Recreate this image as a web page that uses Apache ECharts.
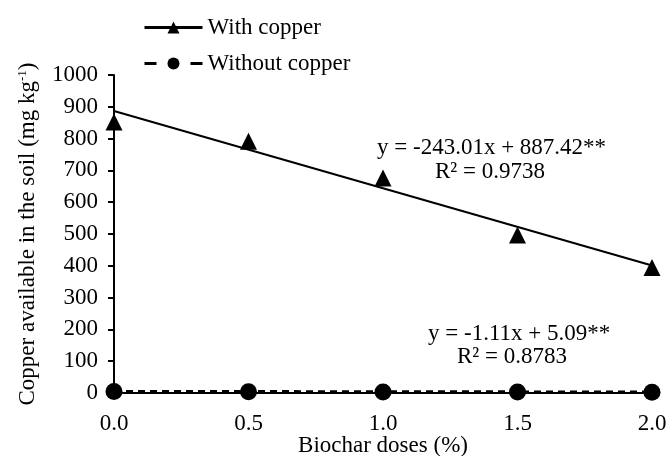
<!DOCTYPE html>
<html>
<head>
<meta charset="utf-8">
<script src="https://cdn.jsdelivr.net/npm/echarts@6/dist/echarts.min.js"></script>
<style>
  html, body {margin: 0; padding: 0; background: #fff;}
  #chart {width: 669px; height: 456px;}
</style>
</head>
<body>
<div id="chart"></div>
<script>
const doses = [0, 0.5, 1.0, 1.5, 2.0];
const withCopper = [852, 792, 676, 497, 395];
const withoutCopper = [5, 4, 3, 3, 2];
const withTrend = [[0, 887], [2, 401]];
const withoutTrend = [[0, 5], [2, 3]];
const xTicks = ['0.0', '0.5', '1.0', '1.5', '2.0'];

const font = 'Liberation Serif';
const fs = 23;
const chart = echarts.init(document.getElementById('chart'));

chart.setOption({
    animation: false,
    textStyle: {fontFamily: font, color: '#000'},
    grid: {left: 114, right: 17, top: 75, bottom: 63, outerBoundsMode: 'none'},
    legend: {
        orient: 'vertical',
        left: 143,
        top: 16,
        padding: 0,
        itemGap: 13,
        itemWidth: 58,
        itemHeight: 15,
        textStyle: {fontFamily: font, fontSize: fs, color: '#000'},
        data: [
            {name: 'With copper', lineStyle: {width: 3, color: '#000', opacity: 1, type: 'solid'}},
            {name: 'Without copper', lineStyle: {width: 3, color: '#000', opacity: 1, type: [12, 34]}}
        ]
    },
    xAxis: {
        type: 'value',
        min: 0, max: 2, interval: 0.5,
        name: 'Biochar doses (%)',
        nameLocation: 'middle',
        nameGap: 41,
        nameMoveOverlap: false,
        nameTextStyle: {fontFamily: font, fontSize: fs, color: '#000'},
        axisLine: {lineStyle: {color: '#000', width: 2}},
        axisTick: {show: false},
        splitLine: {show: false},
        axisLabel: {
            fontFamily: font, fontSize: fs, color: '#000', margin: 19,
            formatter: v => xTicks[Math.round(v / 0.5)]
        }
    },
    yAxis: {
        type: 'value',
        min: 0, max: 1000, interval: 100,
        name: '{a|Copper available in the soil (mg kg}{s|-1}{a|)}',
        nameLocation: 'middle',
        nameGap: 75,
        nameMoveOverlap: false,
        nameTextStyle: {
            rich: {
                a: {fontFamily: font, fontSize: fs, color: '#000'},
                s: {fontFamily: font, fontSize: 13, color: '#000', verticalAlign: 'top', padding: [0, 0, 10, 0]}
            }
        },
        axisLine: {show: true, lineStyle: {color: '#000', width: 2}},
        axisTick: {show: true, length: 6, lineStyle: {color: '#000', width: 2}},
        splitLine: {show: false},
        axisLabel: {fontFamily: font, fontSize: fs, color: '#000', margin: 16, formatter: v => String(v)}
    },
    series: [
        {
            name: 'With copper',
            type: 'line',
            data: doses.map((d, i) => [d, withCopper[i]]),
            symbol: 'triangle',
            symbolSize: 17,
            itemStyle: {color: '#000'},
            lineStyle: {width: 0, opacity: 0},
            z: 5
        },
        {
            name: 'Without copper',
            type: 'line',
            data: doses.map((d, i) => [d, withoutCopper[i]]),
            symbol: 'circle',
            symbolSize: 17,
            itemStyle: {color: '#000'},
            lineStyle: {width: 0, opacity: 0},
            z: 5
        },
        {
            name: 'trend1',
            type: 'line',
            data: withTrend,
            symbol: 'none',
            lineStyle: {color: '#000', width: 2},
            z: 3
        },
        {
            name: 'trend2',
            type: 'line',
            data: withoutTrend,
            symbol: 'none',
            lineStyle: {color: '#000', width: 3, type: [7, 5]},
            z: 4
        }
    ],
    graphic: [
        {type: 'text', left: 377, top: 136, style: {text: 'y = -243.01x + 887.42**', font: fs + 'px "Liberation Serif"', fill: '#000'}},
        {type: 'text', left: 435, top: 160, style: {text: 'R² = 0.9738', font: fs + 'px "Liberation Serif"', fill: '#000'}},
        {type: 'text', left: 428, top: 322, style: {text: 'y = -1.11x + 5.09**', font: fs + 'px "Liberation Serif"', fill: '#000'}},
        {type: 'text', left: 457, top: 345, style: {text: 'R² = 0.8783', font: fs + 'px "Liberation Serif"', fill: '#000'}}
    ]
});
</script>
</body>
</html>
